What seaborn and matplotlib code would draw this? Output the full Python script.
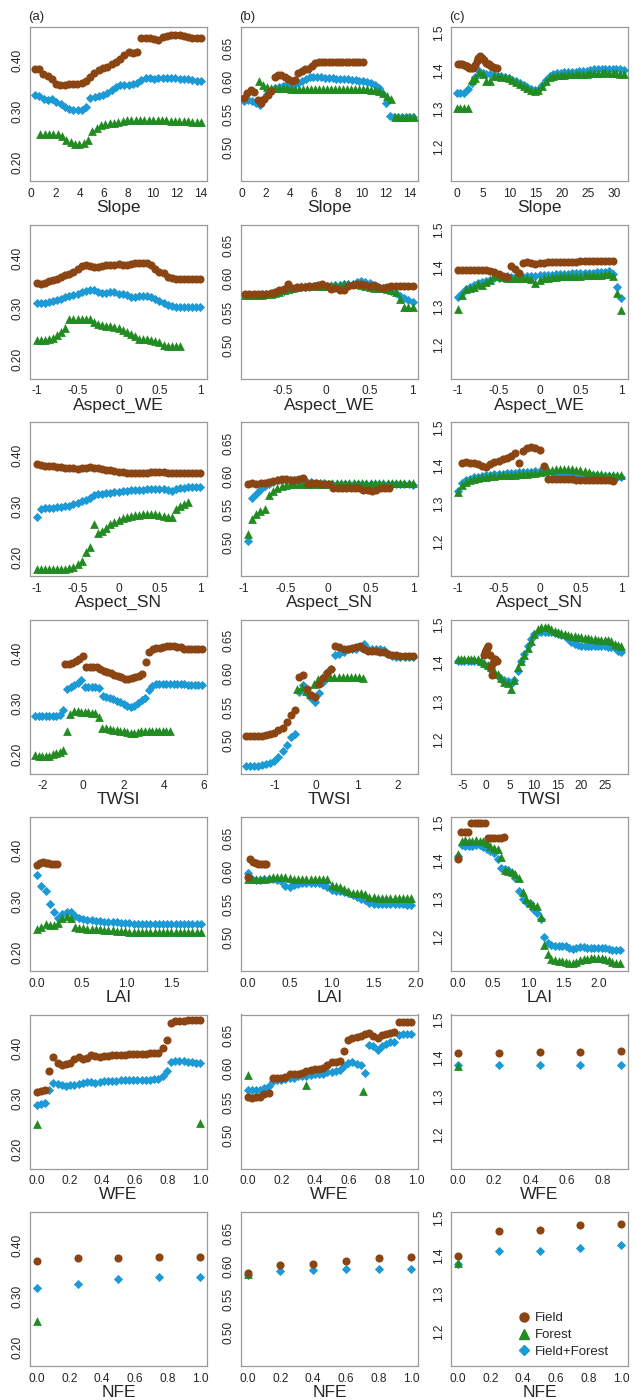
import numpy as np
import pandas as pd
import matplotlib
matplotlib.use("Agg")
import matplotlib.pyplot as plt
import seaborn as sns
from matplotlib.lines import Line2D

sns.set_theme(style="white")
plt.rcParams['font.family'] = ['Liberation Sans', 'DejaVu Sans']

FIELD_C = "#8B4513"
FOREST_C = "#228B22"
BOTH_C = "#1B9AD6"

# ---------------- Row 1: Slope ----------------
slope_a_field_range = (0.3, 14.0)
slope_a_field = [0.383,0.383,0.373,0.369,0.364,0.354,0.351,0.352,0.353,0.353,0.353,0.355,0.360,0.368,0.375,0.381,0.385,0.387,0.393,0.398,
                 0.404,0.410,0.416,0.414,0.417,0.445,0.445,0.444,0.442,0.440,0.447,0.449,0.451,0.451,0.451,0.449,0.447,0.445,0.445,0.445]
slope_a_forest_range = (0.75, 14.0)
slope_a_forest = [0.255,0.256,0.256,0.256,0.256,0.252,0.244,0.240,0.236,0.236,0.238,0.244,0.262,0.268,0.273,0.275,0.277,0.278,0.279,0.282,
                  0.283,0.283,0.283,0.283,0.283,0.283,0.283,0.283,0.283,0.283,0.282,0.282,0.282,0.281,0.281,0.280,0.280,0.279]
slope_a_both_range = (0.33, 14.0)
slope_a_both = [0.332,0.330,0.325,0.322,0.325,0.318,0.314,0.309,0.305,0.302,0.302,0.303,0.309,0.327,0.329,0.331,0.333,0.336,0.342,0.347,
                0.351,0.352,0.352,0.353,0.356,0.362,0.366,0.366,0.363,0.365,0.366,0.366,0.366,0.365,0.364,0.364,0.363,0.361,0.360,0.359]

slope_b_field_range = (0.2, 10.1)
slope_b_field = [0.575,0.582,0.587,0.584,0.572,0.568,0.574,0.580,0.586,0.607,0.609,0.609,0.606,0.603,0.600,0.602,0.612,0.615,0.618,0.619,
                 0.624,0.628,0.630,0.630,0.630,0.630,0.630,0.630,0.630,0.630,0.630,0.630,0.630,0.630,0.630,0.630]
slope_b_forest_range = (1.48, 14.4)
slope_b_forest = [0.601,0.594,0.591,0.590,0.590,0.590,0.590,0.590,0.589,0.589,0.589,0.589,0.589,0.589,0.589,0.589,0.589,0.589,0.589,0.589,
                  0.589,0.589,0.588,0.588,0.588,0.588,0.588,0.588,0.587,0.587,0.586,0.583,0.578,0.573,0.547,0.547,0.547,0.547,0.546,0.546]
slope_b_both_range = (0.22, 14.3)
slope_b_both = [0.570,0.572,0.570,0.568,0.565,0.573,0.581,0.586,0.590,0.592,0.593,0.594,0.595,0.595,0.597,0.600,0.604,0.606,0.607,0.606,
                0.606,0.605,0.605,0.605,0.604,0.604,0.603,0.603,0.602,0.602,0.601,0.600,0.599,0.597,0.594,0.590,0.582,0.567,0.548,0.547,
                0.547,0.547,0.547,0.547,0.547]

slope_c_field_range = (0.3, 7.6)
slope_c_field = [1.417,1.417,1.416,1.414,1.413,1.411,1.408,1.407,1.408,1.415,1.425,1.432,1.437,1.434,1.427,1.420,1.417,1.416,1.412,1.409,
                 1.408,1.407]
slope_c_forest_range = (0.0, 31.8)
slope_c_forest = [1.302,1.302,1.302,1.303,1.375,1.380,1.395,1.390,1.373,1.372,1.385,1.386,1.384,1.382,1.380,1.376,1.370,1.365,1.360,1.355,
                  1.350,1.347,1.348,1.360,1.372,1.382,1.386,1.388,1.389,1.389,1.390,1.390,1.390,1.391,1.391,1.392,1.393,1.394,1.394,1.394,
                  1.395,1.394,1.394,1.393,1.392,1.390]
slope_c_both_range = (0.0, 31.8)
slope_c_both = [1.342,1.342,1.340,1.352,1.368,1.384,1.398,1.393,1.392,1.390,1.388,1.387,1.385,1.383,1.381,1.376,1.372,1.367,1.362,1.357,
                1.352,1.348,1.350,1.362,1.375,1.385,1.390,1.393,1.394,1.395,1.396,1.396,1.397,1.398,1.399,1.400,1.402,1.404,1.405,1.405,
                1.405,1.405,1.405,1.405,1.404,1.402]

# ---------------- Row 2: Aspect_WE ----------------
we_a_field_range = (-1.0, 1.0)
we_a_field = [0.351,0.348,0.350,0.354,0.356,0.359,0.362,0.366,0.369,0.372,0.378,0.384,0.387,0.385,0.383,0.383,0.385,0.386,0.387,0.387,
              0.388,0.387,0.387,0.389,0.390,0.391,0.391,0.390,0.386,0.378,0.373,0.371,0.363,0.360,0.358,0.358,0.358,0.358,0.358,0.358,0.358]
we_a_forest_range = (-1.0, 0.75)
we_a_forest = [0.238,0.238,0.238,0.240,0.243,0.248,0.255,0.262,0.280,0.281,0.281,0.281,0.281,0.280,0.275,0.270,0.268,0.267,0.266,0.265,
               0.262,0.259,0.255,0.250,0.246,0.241,0.240,0.240,0.239,0.237,0.234,0.228,0.227,0.227,0.227,0.227]
we_a_both_range = (-1.0, 1.0)
we_a_both = [0.311,0.311,0.312,0.313,0.315,0.317,0.320,0.323,0.326,0.328,0.330,0.333,0.336,0.338,0.337,0.333,0.331,0.332,0.334,0.333,
             0.330,0.329,0.327,0.324,0.324,0.325,0.325,0.325,0.324,0.320,0.316,0.312,0.307,0.305,0.304,0.304,0.304,0.304,0.304,0.304,0.304]

we_b_field_range = (-0.93, 1.0)
we_b_field = [0.577,0.577,0.577,0.577,0.578,0.578,0.579,0.581,0.583,0.585,0.593,0.587,0.588,0.588,0.588,0.589,0.590,0.591,0.592,0.590,
              0.585,0.587,0.583,0.584,0.589,0.591,0.593,0.593,0.591,0.590,0.591,0.588,0.587,0.588,0.589,0.589,0.590,0.590,0.590,0.590]
we_b_forest_range = (-0.93, 1.0)
we_b_forest = [0.576,0.576,0.576,0.576,0.576,0.577,0.578,0.579,0.581,0.583,0.585,0.586,0.588,0.589,0.590,0.590,0.590,0.590,0.590,0.590,
               0.591,0.591,0.591,0.592,0.592,0.592,0.592,0.591,0.589,0.588,0.587,0.586,0.586,0.585,0.583,0.580,0.570,0.557,0.557,0.557]
we_b_both_range = (-0.93, 1.0)
we_b_both = [0.576,0.576,0.576,0.576,0.577,0.577,0.577,0.578,0.580,0.582,0.584,0.585,0.587,0.588,0.588,0.588,0.589,0.589,0.590,0.590,
             0.590,0.591,0.591,0.592,0.592,0.593,0.596,0.597,0.596,0.594,0.590,0.588,0.587,0.585,0.582,0.579,0.575,0.572,0.568,0.565]

we_c_field_range = (-1.0, 0.9)
we_c_field = [1.396,1.396,1.396,1.396,1.396,1.396,1.396,1.395,1.393,1.390,1.385,1.378,1.376,1.405,1.397,1.387,1.413,1.416,1.412,1.411,
              1.412,1.414,1.416,1.417,1.417,1.417,1.416,1.416,1.416,1.417,1.418,1.418,1.418,1.418,1.418,1.418,1.418,1.418,1.418]
we_c_forest_range = (-1.0, 1.0)
we_c_forest = [1.293,1.330,1.345,1.347,1.350,1.358,1.355,1.364,1.370,1.378,1.380,1.376,1.374,1.373,1.373,1.373,1.373,1.373,1.372,1.360,
               1.370,1.375,1.375,1.376,1.377,1.378,1.378,1.379,1.379,1.380,1.380,1.381,1.381,1.382,1.382,1.383,1.384,1.385,1.380,1.335,1.290]
we_c_both_range = (-1.0, 1.0)
we_c_both = [1.325,1.335,1.345,1.350,1.355,1.360,1.363,1.366,1.370,1.373,1.375,1.377,1.378,1.377,1.376,1.376,1.377,1.378,1.378,1.380,
             1.381,1.382,1.383,1.383,1.384,1.384,1.385,1.385,1.386,1.386,1.387,1.387,1.388,1.388,1.389,1.389,1.390,1.392,1.385,1.350,1.322]

# ---------------- Row 3: Aspect_SN ----------------
sn_a_field_range = (-1.0, 1.0)
sn_a_field = [0.383,0.381,0.379,0.379,0.380,0.378,0.377,0.376,0.376,0.375,0.374,0.375,0.376,0.377,0.376,0.375,0.373,0.372,0.371,0.369,
              0.368,0.367,0.366,0.366,0.366,0.366,0.366,0.366,0.367,0.367,0.367,0.367,0.366,0.366,0.366,0.366,0.366,0.366,0.365,0.365,0.365]
sn_a_forest_range = (-1.0, 0.85)
sn_a_forest = [0.177,0.177,0.177,0.177,0.177,0.177,0.177,0.177,0.178,0.180,0.186,0.193,0.211,0.220,0.265,0.247,0.251,0.257,0.265,0.270,
               0.274,0.277,0.280,0.282,0.284,0.284,0.285,0.285,0.285,0.285,0.284,0.282,0.280,0.279,0.295,0.300,0.305,0.308]
sn_a_both_range = (-1.0, 1.0)
sn_a_both = [0.280,0.294,0.296,0.296,0.297,0.298,0.299,0.300,0.301,0.304,0.307,0.310,0.313,0.316,0.323,0.324,0.325,0.326,0.327,0.328,
             0.329,0.330,0.331,0.332,0.332,0.333,0.333,0.334,0.334,0.334,0.334,0.334,0.333,0.330,0.334,0.336,0.337,0.338,0.339,0.339,0.339]

sn_b_field_range = (-0.95, 0.72)
sn_b_field = [0.589,0.590,0.589,0.590,0.590,0.591,0.593,0.595,0.596,0.596,0.595,0.594,0.596,0.598,0.589,0.590,0.590,0.588,0.588,0.589,
              0.583,0.582,0.582,0.582,0.583,0.583,0.582,0.580,0.579,0.578,0.580,0.583,0.582,0.583]
sn_b_forest_range = (-0.95, 1.0)
sn_b_forest = [0.514,0.536,0.543,0.548,0.551,0.572,0.578,0.583,0.586,0.587,0.588,0.588,0.588,0.588,0.588,0.588,0.588,0.588,0.589,0.589,
               0.590,0.590,0.590,0.590,0.590,0.590,0.590,0.590,0.590,0.590,0.590,0.590,0.590,0.590,0.590,0.590,0.590,0.590,0.590,0.590]
sn_b_both_range = (-0.95, 1.0)
sn_b_both = [0.503,0.567,0.574,0.580,0.585,0.588,0.591,0.594,0.595,0.595,0.595,0.594,0.594,0.593,0.592,0.591,0.590,0.590,0.590,0.589,
             0.589,0.589,0.589,0.589,0.588,0.588,0.588,0.588,0.588,0.588,0.588,0.588,0.588,0.588,0.588,0.588,0.588,0.588,0.588,0.587]

sn_c_field_range = (-0.95, 0.9)
sn_c_field = [1.408,1.410,1.408,1.406,1.403,1.400,1.397,1.405,1.410,1.412,1.416,1.420,1.424,1.432,1.408,1.437,1.447,1.449,1.446,1.440,
              1.398,1.365,1.365,1.364,1.364,1.364,1.364,1.364,1.363,1.363,1.363,1.362,1.362,1.362,1.362,1.361,1.361,1.360]
sn_c_forest_range = (-1.0, 1.0)
sn_c_forest = [1.330,1.348,1.356,1.362,1.365,1.368,1.370,1.371,1.372,1.373,1.374,1.375,1.375,1.376,1.376,1.377,1.378,1.379,1.380,1.381,
               1.383,1.386,1.388,1.389,1.390,1.390,1.390,1.391,1.390,1.389,1.388,1.385,1.382,1.379,1.378,1.377,1.376,1.376,1.375,1.375,1.375]
sn_c_both_range = (-1.0, 1.0)
sn_c_both = [1.334,1.355,1.362,1.366,1.369,1.371,1.373,1.374,1.375,1.377,1.378,1.379,1.380,1.381,1.381,1.382,1.383,1.384,1.384,1.385,
             1.385,1.384,1.383,1.382,1.381,1.380,1.379,1.378,1.378,1.377,1.376,1.375,1.375,1.374,1.374,1.373,1.373,1.372,1.372,1.371,1.370]

# ---------------- Row 4: TWSI ----------------
twsi_a_field_range = (-0.9, 5.9)
twsi_a_field = [0.379,0.379,0.380,0.384,0.389,0.394,0.372,0.372,0.373,0.373,0.369,0.365,0.362,0.360,0.357,0.355,0.352,0.349,0.348,0.350,
                0.353,0.355,0.358,0.383,0.402,0.408,0.410,0.410,0.412,0.413,0.413,0.413,0.412,0.411,0.407,0.407,0.407,0.407,0.407,0.407]
twsi_a_forest_range = (-2.4, 4.3)
twsi_a_forest = [0.199,0.198,0.197,0.197,0.198,0.201,0.204,0.206,0.210,0.247,0.280,0.285,0.285,0.284,0.284,0.284,0.283,0.283,0.274,0.253,
                 0.252,0.250,0.249,0.248,0.247,0.247,0.245,0.243,0.243,0.244,0.246,0.246,0.246,0.246,0.246,0.246,0.246,0.246,0.246]
twsi_a_both_range = (-2.4, 5.9)
twsi_a_both = [0.277,0.277,0.277,0.276,0.276,0.276,0.277,0.279,0.288,0.330,0.334,0.338,0.342,0.346,0.333,0.333,0.334,0.333,0.332,0.315,
               0.313,0.311,0.309,0.306,0.303,0.300,0.296,0.294,0.296,0.302,0.307,0.312,0.327,0.336,0.340,0.340,0.340,0.340,0.340,0.340,
               0.340,0.340,0.339,0.338,0.338,0.338,0.338,0.338]

twsi_b_field_range = (-1.7, 2.35)
twsi_b_field = [0.507,0.507,0.507,0.507,0.507,0.508,0.509,0.511,0.515,0.519,0.528,0.538,0.545,0.595,0.599,0.577,0.568,0.566,0.585,0.594,
                0.601,0.607,0.642,0.641,0.638,0.638,0.639,0.640,0.642,0.638,0.635,0.635,0.634,0.633,0.633,0.630,0.628,0.628,0.627,0.627,
                0.627,0.627]
twsi_b_forest_range = (-0.45, 1.15)
twsi_b_forest = [0.578,0.580,0.574,0.570,0.585,0.592,0.595,0.596,0.596,0.596,0.596,0.596,0.596,0.596,0.596,0.596,0.594]
twsi_b_both_range = (-1.7, 2.35)
twsi_b_both = [0.462,0.462,0.462,0.462,0.463,0.464,0.466,0.469,0.475,0.484,0.493,0.505,0.509,0.573,0.583,0.572,0.563,0.558,0.572,0.588,
               0.603,0.607,0.629,0.630,0.633,0.637,0.638,0.638,0.640,0.645,0.638,0.638,0.637,0.637,0.636,0.630,0.627,0.626,0.626,0.626,
               0.626,0.626]

twsi_c_field_range = (-0.5, 2.2)
twsi_c_field = [1.420,1.430,1.435,1.440,1.445,1.420,1.390,1.370,1.400,1.410,1.410,1.405]
twsi_c_forest_range = (-6.0, 28.5)
twsi_c_forest = [1.410,1.410,1.410,1.411,1.411,1.410,1.410,1.405,1.400,1.396,1.390,1.380,1.372,1.360,1.350,1.347,1.332,1.356,1.390,1.405,
                 1.420,1.440,1.458,1.475,1.490,1.494,1.495,1.494,1.490,1.485,1.480,1.478,1.476,1.474,1.472,1.470,1.468,1.467,1.466,1.465,
                 1.463,1.462,1.460,1.460,1.460,1.460,1.458,1.450,1.446,1.445]
twsi_c_both_range = (-6.0, 28.5)
twsi_c_both = [1.405,1.405,1.405,1.405,1.405,1.405,1.405,1.402,1.398,1.392,1.382,1.372,1.365,1.358,1.355,1.352,1.345,1.355,1.380,1.405,
               1.425,1.445,1.462,1.475,1.480,1.482,1.482,1.482,1.481,1.478,1.476,1.474,1.470,1.462,1.455,1.450,1.446,1.445,1.445,1.445,
               1.444,1.444,1.444,1.444,1.444,1.443,1.442,1.440,1.432,1.430]

# ---------------- Row 5: LAI ----------------
lai_a_field_range = (0.0, 0.22)
lai_a_field = [0.372,0.376,0.377,0.376,0.375,0.374,0.374,0.374]
lai_a_forest_range = (0.0, 1.83)
lai_a_forest = [0.246,0.249,0.255,0.253,0.253,0.258,0.268,0.272,0.268,0.250,0.248,0.247,0.246,0.246,0.245,0.245,0.244,0.244,0.243,0.242,
                0.241,0.241,0.240,0.240,0.240,0.240,0.240,0.240,0.240,0.240,0.240,0.240,0.240,0.240,0.240,0.240,0.240,0.240,0.240,0.240]
lai_a_both_range = (0.0, 1.83)
lai_a_both = [0.351,0.330,0.320,0.295,0.280,0.268,0.275,0.280,0.279,0.272,0.267,0.265,0.264,0.263,0.262,0.261,0.260,0.260,0.259,0.259,
              0.258,0.257,0.257,0.256,0.256,0.256,0.256,0.256,0.256,0.256,0.256,0.256,0.256,0.256,0.256,0.256,0.256,0.256,0.256,0.256]

lai_b_field_range = (0.0, 0.22)
lai_b_field = [0.592,0.619,0.614,0.612,0.611,0.611,0.611,0.611]
lai_b_forest_range = (0.0, 1.95)
lai_b_forest = [0.588,0.588,0.588,0.589,0.589,0.590,0.591,0.592,0.592,0.591,0.590,0.589,0.589,0.589,0.589,0.589,0.589,0.589,0.589,0.589,
                0.579,0.578,0.577,0.574,0.571,0.568,0.567,0.567,0.566,0.562,0.561,0.560,0.560,0.560,0.560,0.560,0.560,0.560,0.560,0.560]
lai_b_both_range = (0.0, 1.95)
lai_b_both = [0.597,0.588,0.587,0.587,0.588,0.589,0.588,0.587,0.586,0.578,0.576,0.579,0.581,0.582,0.582,0.582,0.582,0.582,0.580,0.577,
              0.572,0.571,0.570,0.569,0.568,0.565,0.561,0.559,0.557,0.553,0.551,0.551,0.551,0.551,0.551,0.551,0.551,0.551,0.550,0.550]

lai_c_field_range = (0.0, 0.66)
lai_c_field = [1.403,1.474,1.474,1.474,1.498,1.498,1.498,1.498,1.498,1.458,1.458,1.458,1.458,1.458,1.462]
lai_c_forest_range = (0.0, 2.3)
lai_c_forest = [1.416,1.450,1.453,1.452,1.452,1.453,1.452,1.450,1.445,1.438,1.434,1.430,1.410,1.375,1.372,1.370,1.365,1.355,1.318,1.300,
                1.290,1.284,1.282,1.252,1.178,1.155,1.142,1.140,1.138,1.136,1.134,1.132,1.132,1.135,1.140,1.142,1.142,1.145,1.145,1.145,
                1.144,1.143,1.140,1.135,1.133,1.132]
lai_c_both_range = (0.0, 2.3)
lai_c_both = [1.412,1.440,1.438,1.438,1.438,1.440,1.440,1.436,1.430,1.426,1.420,1.403,1.380,1.378,1.375,1.368,1.355,1.320,1.300,1.292,
              1.288,1.272,1.262,1.248,1.200,1.185,1.180,1.177,1.176,1.176,1.176,1.172,1.168,1.172,1.175,1.175,1.170,1.170,1.170,1.171,
              1.172,1.170,1.168,1.166,1.166,1.166]

# ---------------- Row 6: WFE ----------------
wfe_a_field_range = (0.0, 1.0)
wfe_a_field = [0.314,0.316,0.318,0.355,0.382,0.371,0.367,0.368,0.371,0.378,0.382,0.378,0.380,0.387,0.384,0.383,0.384,0.385,0.386,0.386,
               0.387,0.387,0.388,0.388,0.389,0.389,0.389,0.390,0.390,0.391,0.400,0.416,0.450,0.454,0.454,0.454,0.455,0.455,0.456,0.456]
wfe_a_forest_x = [0.0, 1.0]
wfe_a_forest = [0.251, 0.252]
wfe_a_both_range = (0.0, 1.0)
wfe_a_both = [0.287,0.289,0.291,0.318,0.331,0.329,0.327,0.326,0.327,0.328,0.330,0.331,0.333,0.333,0.332,0.334,0.335,0.335,0.335,0.336,
              0.337,0.337,0.338,0.338,0.338,0.338,0.338,0.338,0.339,0.340,0.345,0.354,0.373,0.374,0.374,0.374,0.373,0.372,0.371,0.371]

wfe_b_field_range = (0.0, 0.97)
wfe_b_field = [0.558,0.556,0.557,0.558,0.562,0.563,0.586,0.587,0.587,0.588,0.592,0.593,0.593,0.594,0.597,0.599,0.600,0.600,0.602,0.606,
               0.610,0.611,0.612,0.627,0.643,0.646,0.648,0.649,0.652,0.654,0.650,0.647,0.651,0.653,0.654,0.655,0.671,0.671,0.671,0.671]
wfe_b_forest_x = [0.0, 0.348, 0.684]
wfe_b_forest = [0.591, 0.576, 0.567]
wfe_b_both_range = (0.0, 0.97)
wfe_b_both = [0.569,0.569,0.569,0.568,0.571,0.574,0.582,0.584,0.584,0.585,0.586,0.587,0.589,0.589,0.590,0.591,0.592,0.592,0.593,0.595,
              0.596,0.597,0.599,0.604,0.609,0.610,0.608,0.606,0.594,0.636,0.634,0.628,0.634,0.638,0.640,0.641,0.651,0.652,0.652,0.652]

wfe_c_x = [0.0, 0.225, 0.45, 0.675, 0.9]
wfe_c_field = [1.413, 1.414, 1.416, 1.416, 1.418]
wfe_c_forest_x = [0.0]
wfe_c_forest = [1.380]
wfe_c_both = [1.381, 1.382, 1.382, 1.382, 1.383]

# ---------------- Row 7: NFE ----------------
nfe_a_x = [0.0, 0.25, 0.5, 0.75, 1.0]
nfe_a_field = [0.369, 0.375, 0.376, 0.378, 0.378]
nfe_a_forest_x = [0.0]
nfe_a_forest = [0.251]
nfe_a_both = [0.317, 0.325, 0.334, 0.339, 0.339]

nfe_b_x = [0.0, 0.2, 0.4, 0.6, 0.8, 1.0]
nfe_b_field = [0.590, 0.6025, 0.6035, 0.6075, 0.6125, 0.6135]
nfe_b_forest_x = [0.0]
nfe_b_forest = [0.5885]
nfe_b_both = [0.5875, 0.5935, 0.594, 0.596, 0.596, 0.596]

nfe_c_x = [0.0, 0.25, 0.5, 0.75, 1.0]
nfe_c_field = [1.399, 1.464, 1.466, 1.479, 1.483]
nfe_c_forest_x = [0.0]
nfe_c_forest = [1.380]
nfe_c_both = [1.378, 1.413, 1.413, 1.421, 1.427]

# ---------------- axis labels / ticks ----------------
row_labels = ["Slope", "Aspect_WE", "Aspect_SN", "TWSI", "LAI", "WFE", "NFE"]
panel_tags = ["(a)", "(b)", "(c)"]
legend_labels = ["Field", "Forest", "Field+Forest"]


def xs(spec, y):
    if isinstance(spec, tuple):
        return np.linspace(spec[0], spec[1], len(y))
    return np.asarray(spec, dtype=float)


def S(xspec, y):
    return (xs(xspec, y), np.asarray(y, dtype=float))


asp = [-1, -0.5, 0, 0.5, 1]
asp_l = ["-1", "-0.5", "0", "0.5", "1"]
dec2 = [0, 0.2, 0.4, 0.6, 0.8, 1.0]
dec2_l = ["0.0", "0.2", "0.4", "0.6", "0.8", "1.0"]

# panels[row][col] = (field, forest, both, xlim, xticks, xticklabels)
panels = [
    [
        (S(slope_a_field_range, slope_a_field), S(slope_a_forest_range, slope_a_forest), S(slope_a_both_range, slope_a_both),
         (-0.1, 14.5), list(range(0, 15, 2)), [str(v) for v in range(0, 15, 2)]),
        (S(slope_b_field_range, slope_b_field), S(slope_b_forest_range, slope_b_forest), S(slope_b_both_range, slope_b_both),
         (-0.05, 14.7), list(range(0, 15, 2)), [str(v) for v in range(0, 15, 2)]),
        (S(slope_c_field_range, slope_c_field), S(slope_c_forest_range, slope_c_forest), S(slope_c_both_range, slope_c_both),
         (-1.1, 32.6), list(range(0, 31, 5)), [str(v) for v in range(0, 31, 5)]),
    ],
    [
        (S(we_a_field_range, we_a_field), S(we_a_forest_range, we_a_forest), S(we_a_both_range, we_a_both),
         (-1.08, 1.08), asp, asp_l),
        (S(we_b_field_range, we_b_field), S(we_b_forest_range, we_b_forest), S(we_b_both_range, we_b_both),
         (-0.975, 1.06), asp[1:], asp_l[1:]),
        (S(we_c_field_range, we_c_field), S(we_c_forest_range, we_c_forest), S(we_c_both_range, we_c_both),
         (-1.08, 1.08), asp, asp_l),
    ],
    [
        (S(sn_a_field_range, sn_a_field), S(sn_a_forest_range, sn_a_forest), S(sn_a_both_range, sn_a_both),
         (-1.08, 1.08), asp, asp_l),
        (S(sn_b_field_range, sn_b_field), S(sn_b_forest_range, sn_b_forest), S(sn_b_both_range, sn_b_both),
         (-1.03, 1.06), asp, asp_l),
        (S(sn_c_field_range, sn_c_field), S(sn_c_forest_range, sn_c_forest), S(sn_c_both_range, sn_c_both),
         (-1.08, 1.08), asp, asp_l),
    ],
    [
        (S(twsi_a_field_range, twsi_a_field), S(twsi_a_forest_range, twsi_a_forest), S(twsi_a_both_range, twsi_a_both),
         (-2.65, 6.15), [-2, 0, 2, 4, 6], ["-2", "0", "2", "4", "6"]),
        (S(twsi_b_field_range, twsi_b_field), S(twsi_b_forest_range, twsi_b_forest), S(twsi_b_both_range, twsi_b_both),
         (-1.82, 2.48), [-1, 0, 1, 2], ["-1", "0", "1", "2"]),
        (S(twsi_c_field_range, twsi_c_field), S(twsi_c_forest_range, twsi_c_forest), S(twsi_c_both_range, twsi_c_both),
         (-7.4, 29.9), [-5, 0, 5, 10, 15, 20, 25], ["-5", "0", "5", "10", "15", "20", "25"]),
    ],
    [
        (S(lai_a_field_range, lai_a_field), S(lai_a_forest_range, lai_a_forest), S(lai_a_both_range, lai_a_both),
         (-0.08, 1.9), [0, 0.5, 1.0, 1.5], ["0.0", "0.5", "1.0", "1.5"]),
        (S(lai_b_field_range, lai_b_field), S(lai_b_forest_range, lai_b_forest), S(lai_b_both_range, lai_b_both),
         (-0.08, 2.03), [0, 0.5, 1.0, 1.5, 2.0], ["0.0", "0.5", "1.0", "1.5", "2.0"]),
        (S(lai_c_field_range, lai_c_field), S(lai_c_forest_range, lai_c_forest), S(lai_c_both_range, lai_c_both),
         (-0.1, 2.42), [0, 0.5, 1.0, 1.5, 2.0], ["0.0", "0.5", "1.0", "1.5", "2.0"]),
    ],
    [
        (S(wfe_a_field_range, wfe_a_field), S(wfe_a_forest_x, wfe_a_forest), S(wfe_a_both_range, wfe_a_both),
         (-0.04, 1.04), dec2, dec2_l),
        (S(wfe_b_field_range, wfe_b_field), S(wfe_b_forest_x, wfe_b_forest), S(wfe_b_both_range, wfe_b_both),
         (-0.039, 1.01), dec2, dec2_l),
        (S(wfe_c_x, wfe_c_field), S(wfe_c_forest_x, wfe_c_forest), S(wfe_c_x, wfe_c_both),
         (-0.036, 0.936), dec2[:5], dec2_l[:5]),
    ],
    [
        (S(nfe_a_x, nfe_a_field), S(nfe_a_forest_x, nfe_a_forest), S(nfe_a_x, nfe_a_both),
         (-0.04, 1.04), dec2, dec2_l),
        (S(nfe_b_x, nfe_b_field), S(nfe_b_forest_x, nfe_b_forest), S(nfe_b_x, nfe_b_both),
         (-0.04, 1.04), dec2, dec2_l),
        (S(nfe_c_x, nfe_c_field), S(nfe_c_forest_x, nfe_c_forest), S(nfe_c_x, nfe_c_both),
         (-0.04, 1.04), dec2, dec2_l),
    ],
]

col_ylim = [(0.163, 0.466), (0.450, 0.682), (1.111, 1.514)]
col_yticks = [[0.20, 0.25, 0.30, 0.35, 0.40, 0.45], [0.50, 0.55, 0.60, 0.65], [1.2, 1.3, 1.4, 1.5]]
col_yticklabels = [["0.20", "", "0.30", "", "0.40", ""], ["0.50", "0.55", "0.60", "0.65"], ["1.2", "1.3", "1.4", "1.5"]]

W, H = 633, 1400
fig = plt.figure(figsize=(W / 100, H / 100), dpi=100)
col_left = [30, 241, 451]
ax_w = 177
ax_h = 154
row_top = [27 + 197.5 * i for i in range(7)]

FRAME = "#9a9a9a"
TXT = "#262626"

for r in range(7):
    for c in range(3):
        field, forest, both, xlim, xt, xtl = panels[r][c]
        ax = fig.add_axes([col_left[c] / W, 1 - (row_top[r] + ax_h) / H, ax_w / W, ax_h / H])
        df_b = pd.DataFrame({"x": both[0], "y": both[1]})
        df_g = pd.DataFrame({"x": forest[0], "y": forest[1]})
        df_f = pd.DataFrame({"x": field[0], "y": field[1]})
        sns.scatterplot(data=df_b, x="x", y="y", ax=ax, marker="D", s=22, color=BOTH_C, linewidth=0, legend=False, zorder=3)
        sns.scatterplot(data=df_g, x="x", y="y", ax=ax, marker="^", s=40, color=FOREST_C, linewidth=0, legend=False, zorder=4)
        sns.scatterplot(data=df_f, x="x", y="y", ax=ax, marker="o", s=34, color=FIELD_C, linewidth=0, legend=False, zorder=5)
        ax.set_xlim(*xlim)
        ax.set_ylim(*col_ylim[c])
        ax.set_xticks(xt)
        ax.set_xticklabels(xtl)
        ax.set_yticks(col_yticks[c])
        ax.set_yticklabels(col_yticklabels[c], rotation=90, va="center")
        ax.tick_params(axis="both", direction="out", length=3.5, width=0.8, color="#555555",
                       labelsize=8.6, labelcolor=TXT, pad=1.5)
        ax.tick_params(axis="y", pad=1)
        for sp in ax.spines.values():
            sp.set_color(FRAME)
            sp.set_linewidth(0.9)
            sp.set_visible(True)
        ax.set_xlabel(row_labels[r], fontsize=12.5, color=TXT, labelpad=0.0)
        ax.set_ylabel("")
        ax.grid(False)
        ax.set_facecolor("white")
        if r == 0:
            fig.text(col_left[c] / W - 0.003, 1 - 17 / H, panel_tags[c], fontsize=9.5, color=TXT,
                     ha="left", va="center")
        if r == 6 and c == 2:
            handles = [
                Line2D([], [], linestyle="none", marker="o", markersize=6.5, color=FIELD_C),
                Line2D([], [], linestyle="none", marker="^", markersize=7, color=FOREST_C),
                Line2D([], [], linestyle="none", marker="D", markersize=5, color=BOTH_C),
            ]
            ax.legend(handles, legend_labels, loc="lower left", bbox_to_anchor=(0.33, 0.0), frameon=False,
                      fontsize=9.5, handletextpad=0.3, labelspacing=0.35, handlelength=1.0, borderaxespad=0.2,
                      labelcolor=TXT)

fig.savefig("out.png", dpi=100, facecolor="white")
